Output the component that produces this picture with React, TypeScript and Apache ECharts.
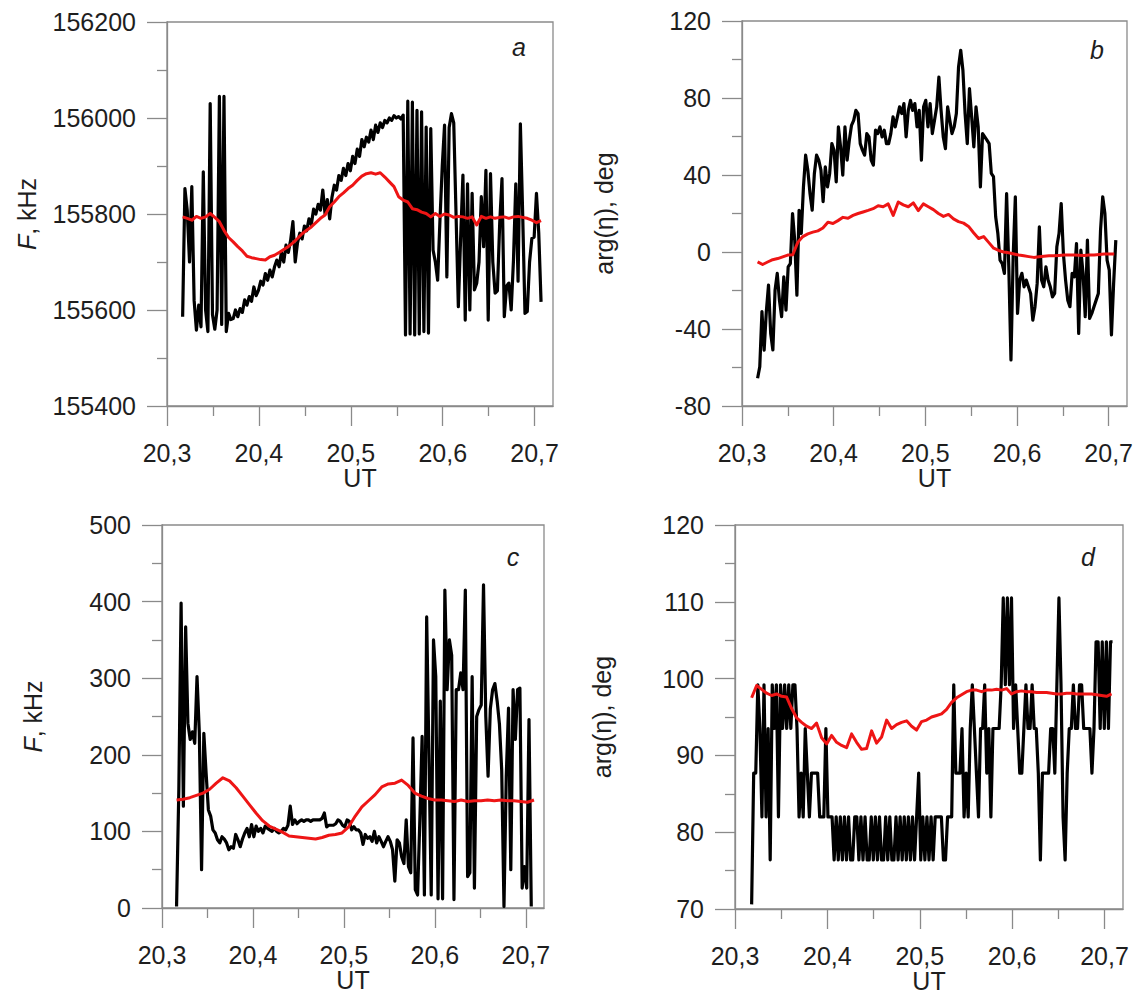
import React, { useEffect, useRef } from "react";
import * as echarts from "echarts";

// ---- axis ticks ----
const UT_MAJOR = [20.3, 20.4, 20.5, 20.6, 20.7];
const UT_MINOR = [20.35, 20.45, 20.55, 20.65];

// ---- panel a : F, kHz ----
const aBlackStart = 20.317;
const aBlackStep = 0.0025;
const aBlack = [
  155586, 155853, 155808, 155700, 155857, 155620, 155558, 155610, 155565, 155888,
  155600, 155555, 156030, 155590, 155560, 155600, 156045, 155570, 156045, 155555,
  155593, 155580, 155582, 155600, 155586, 155603, 155595, 155621, 155610, 155628,
  155618, 155648, 155630, 155641, 155660, 155652, 155676, 155662, 155683, 155669,
  155690, 155704, 155690, 155720, 155700, 155735, 155720, 155745, 155784, 155700,
  155740, 155760, 155748, 155775, 155765, 155790, 155778, 155810, 155800, 155820,
  155808, 155850, 155800, 155830, 155790, 155835, 155860, 155850, 155880, 155870,
  155895, 155880, 155905, 155890, 155920, 155905, 155935, 155920, 155955, 155940,
  155960, 155950, 155975, 155955, 155985, 155970, 155990, 155980, 155995, 155990,
  156000, 155995, 156005, 156000, 156003, 155998, 156006, 155548, 156035, 155550,
  156033, 155548, 156016, 155550, 156013, 155555, 155981, 155552, 155978, 155725,
  155700, 155662, 155787, 155900, 155985, 155669, 155980, 156009, 155990, 155800,
  155607, 155750, 155881, 155579, 155863, 155600, 155843, 155642, 155656, 155700,
  155836, 155732, 155891, 155579, 155884, 155700, 155635, 155640, 155780, 155874,
  155586, 155650, 155656, 155600, 155704, 155863, 155660, 155988, 155800, 155593,
  155597, 155700, 155749, 155752, 155843, 155760, 155617,
];
const aRedStart = 20.317;
const aRedStep = 0.005;
const aRed = [
  155794, 155791, 155787, 155795, 155791, 155794, 155801, 155793, 155784, 155766,
  155751, 155742, 155732, 155723, 155712, 155709, 155707, 155705, 155704, 155711,
  155714, 155720, 155726, 155732, 155740, 155749, 155759, 155766, 155773, 155782,
  155791, 155798, 155815, 155825, 155836, 155844, 155853, 155860, 155870, 155879,
  155884, 155886, 155883, 155886, 155877, 155867, 155857, 155836, 155829, 155825,
  155811, 155809, 155804, 155801, 155794, 155801, 155795, 155800, 155798, 155793,
  155795, 155794, 155791, 155794, 155777, 155795, 155791, 155794, 155791, 155793,
  155794, 155791, 155794, 155795, 155793, 155791, 155787, 155782, 155786,
];

// ---- panel b : arg(eta), deg ----
const bBlackStart = 20.317;
const bBlackEnd = 20.7078;
const bBlack = [
  -65.6, -59.6, -31, -51, -31, -17.2, -42.3, -50.9, -19.8, -11.1,
  -25, -33.6, -12.9, -30.2, -7.7, -6, 20, 6.2, -22.4, 21.7,
  9.6, 33.8, 50.3, 42.5, 30.4, 21.7, 40.8, 50.3, 47.7, 42.5,
  26.1, 44.2, 33.8, 40.8, 56.3, 52.9, 36.4, 65, 54.6, 39.9,
  65, 47.7, 58.1, 65.8, 68.4, 73.6, 71.9, 56.3, 52.9, 50.3,
  61.5, 59.8, 47.7, 45.1, 63.3, 61.5, 65, 59.8, 63.3, 56.3,
  56.3, 61.5, 70.2, 65, 70.2, 75.4, 71.9, 77.1, 59.8, 73.6,
  78.8, 73.6, 77.1, 65, 73.6, 47.7, 75.4, 78.8, 65, 77.1,
  61.5, 68.4, 75.4, 90.9, 73.6, 59.8, 53.7, 75.4, 68.4, 61.5,
  65, 71.9, 96.1, 104.8, 94.4, 71.9, 56.3, 84.9, 70.2, 54.6,
  75.4, 65, 33.8, 61.5, 59.8, 58.1, 56.3, 40.8, 39.1, 18.3,
  9.6, -4.2, -6, -11.1, 30.4, -7.7, -56.1, -2.5, 28.7, -31.9,
  -14.6, -11.1, -18.1, -14.6, -18.1, -21.5, -35.4, -28.4, -16.3, 13.1,
  -14.6, -18.1, -7.7, -14.6, -18.1, -23.3, -21.5, 2.7, 9.6, 25.2,
  -0.8, -14.6, -25, -28.4, -11.1, -12.9, 4.4, -42.3, 1, -11.1,
  -33.6, 6.2, -34.5, -31.9, -28.4, -25, -21.5, 11.3, 28.7, 20,
  -4.2, -9.4, -43.1, -16.3, 6.2,
];
const bRedStart = 20.317;
const bRedStep = 0.00548;
const bRed = [
  -5.1, -6.5, -5.2, -4.0, -3.4, -2.5, -1.6, -1.4, 5.0, 8.0,
  9.4, 10.3, 11.0, 12.5, 15.5, 14.8, 16.3, 18.0, 17.5, 19.0,
  20.0, 20.8, 21.6, 22.5, 24.0, 23.5, 25.0, 19.0, 26.0, 24.5,
  23.5, 25.5, 21.5, 25.0, 23.5, 22.0, 20.0, 18.5, 19.5, 17.2,
  15.8, 15.0, 13.3, 10.0, 7.0, 8.0, 5.0, 2.0, 0.8, 0.0,
  -0.4, -1.0, -1.6, -2.0, -2.4, -2.8, -2.5, -2.2, -2.0, -2.0,
  -1.8, -1.6, -1.6, -1.6, -1.7, -1.8, -1.6, -1.5, -1.3, -1.1,
  -1.1, -1.1,
];

// ---- panel c : F, kHz ----
const cBlackStart = 20.316;
const cBlackStep = 0.0025;
const cBlack = [
  2, 154, 398, 133, 367, 241, 220, 230, 215, 302,
  230, 50, 228, 176, 128, 120, 102, 98, 89, 85,
  93, 90, 85, 76, 80, 78, 96, 89, 80, 90,
  98, 104, 93, 109, 93, 107, 100, 104, 98, 107,
  104, 102, 100, 104, 100, 98, 100, 104, 102, 108,
  133, 109, 115, 110, 113, 115, 113, 115, 115, 113,
  115, 115, 115, 115, 117, 124, 106, 108, 108, 108,
  110, 115, 113, 108, 106, 115, 113, 102, 106, 102,
  102, 98, 83, 96, 91, 93, 87, 100, 85, 93,
  87, 80, 87, 93, 87, 76, 35, 89, 85, 67,
  58, 115, 54, 46, 222, 24, 17, 115, 224, 17,
  380, 200, 17, 350, 302, 12, 270, 12, 415, 285,
  350, 330, 11, 285, 285, 307, 285, 415, 41, 46,
  302, 26, 250, 259, 265, 422, 250, 172, 260, 285,
  293, 270, 240, 180, 2, 172, 261, 50, 285, 220,
  285, 287, 26, 54, 26, 246, 2,
];
const cRedStart = 20.316;
const cRedStep = 0.007278;
const cRed = [
  141, 142, 144, 147, 150, 155, 163, 170, 166, 157,
  146, 135, 124, 114, 107, 103, 99, 94, 93, 92,
  91, 90, 92, 95, 96, 98, 106, 120, 132, 140,
  148, 158, 162, 163, 167, 160, 150, 146, 143, 141,
  141, 140, 139, 141, 139, 140, 140, 141, 140, 141,
  140, 140, 139, 138, 141,
];

// ---- panel d : arg(eta), deg ----
const dBlackStart = 20.318;
const dBlackEnd = 20.7087;
const dBlack = [
  70.6, 87.7, 87.7, 99.2, 93.5, 82, 99.2, 82, 93.5, 76.4,
  99.2, 93.5, 99.2, 82, 99.2, 93.5, 99.2, 93.5, 99.2, 93.5,
  99.2, 99.2, 93.5, 82, 87.7, 82, 93.5, 87.7, 82, 87.7,
  87.7, 87.7, 87.7, 82, 82, 82, 93.5, 82, 82, 82,
  76.4, 82, 76.4, 82, 76.4, 82, 76.4, 82, 76.4, 76.4,
  82, 82, 76.4, 82, 76.4, 82, 76.4, 76.4, 82, 76.4,
  82, 76.4, 82, 76.4, 76.4, 82, 76.4, 82, 76.4, 76.4,
  82, 76.4, 82, 76.4, 82, 76.4, 82, 76.4, 82, 76.4,
  82, 87.7, 76.4, 82, 76.4, 82, 76.4, 82, 76.4, 82,
  82, 82, 82, 76.4, 76.4, 82, 82, 82, 99.2, 87.7,
  87.7, 87.7, 93.5, 82, 87.7, 82, 93.5, 99.2, 93.5, 87.7,
  82, 93.5, 93.5, 99.2, 87.7, 93.5, 82, 93.5, 93.5, 93.5,
  93.5, 99.2, 110.5, 99.2, 110.5, 99.2, 110.5, 93.5, 99.2, 93.5,
  87.7, 87.7, 93.5, 99.2, 93.5, 93.5, 99.2, 93.5, 93.5, 87.7,
  76.4, 87.7, 87.7, 87.7, 87.7, 93.5, 93.5, 87.7, 99.2, 110.5,
  99.2, 82, 76.4, 87.7, 93.5, 93.5, 99.2, 93.5, 93.5, 99.2,
  99.2, 93.5, 93.5, 93.5, 93.5, 87.7, 93.5, 104.8, 104.8, 93.5,
  104.8, 93.5, 104.8, 93.5, 104.8, 104.8,
];
const dRedStart = 20.318;
const dRedStep = 0.005411;
const dRed = [
  97.5, 99.1, 98.6, 98.1, 97.8, 98.0, 97.7, 97.6, 96.1, 94.9,
  94.3, 93.8, 93.5, 94.2, 92.3, 91.5, 92.6, 91.7, 91.3, 91.0,
  92.8, 91.7, 90.8, 90.9, 93.2, 91.6, 92.4, 94.6, 93.5, 94.0,
  94.3, 94.5, 93.8, 93.3, 94.4, 94.6, 95.0, 95.2, 95.4, 96.0,
  96.9, 97.5, 97.9, 98.3, 98.5, 98.5, 98.3, 98.5, 98.5, 98.6,
  98.5, 98.7, 98.0, 98.3, 98.4, 98.3, 98.3, 98.2, 98.2, 98.2,
  98.1, 98.0, 98.0, 98.1, 98.1, 98.0, 98.0, 98.0, 98.0, 97.9,
  97.8, 97.7, 98.0,
];

// ---- helpers ----
function withStep(start: number, step: number, vals: number[]) {
  return vals.map((v, i) => [start + i * step, v]);
}
function withSpan(start: number, end: number, vals: number[]) {
  const step = (end - start) / (vals.length - 1);
  return withStep(start, step, vals);
}

const FONT = "'Liberation Sans', Arial, sans-serif";
const FS = 25;
const AX = "#8a8a8a";
const TXT = "#1e1e1e";
const RED = "#ee1515";

const GRIDS = [
  { left: 167, top: 22, width: 386, height: 384 },
  { left: 742, top: 21, width: 385, height: 385 },
  { left: 162, top: 525, width: 382, height: 383 },
  { left: 735, top: 525, width: 388, height: 384 },
];

const Y_SPECS = [
  { min: 155400, max: 156200, interval: 200, name: "{i|F}, kHz", gap: 128 },
  { min: -80, max: 120, interval: 40, name: "arg(η), deg", gap: 126 },
  { min: 0, max: 500, interval: 100, name: "{i|F}, kHz", gap: 117 },
  { min: 70, max: 120, interval: 10, name: "arg(η), deg", gap: 121 },
];

const LETTERS = [
  { t: "a", x: 519, y: 47 },
  { t: "b", x: 1097, y: 50 },
  { t: "c", x: 513, y: 557 },
  { t: "d", x: 1088, y: 557 },
];

export default function App() {
  const ref = useRef<HTMLDivElement>(null);
  useEffect(() => {
    if (!ref.current) return;
    const chart = echarts.init(ref.current, null, { renderer: "svg" });

    const xAxes: any[] = [];
    GRIDS.forEach((_, g) => {
      xAxes.push({
        gridIndex: g,
        type: "value",
        min: 20.3,
        max: 20.72,
        position: "bottom",
        axisLine: { show: true, onZero: false, lineStyle: { color: AX, width: 1.3 } },
        axisTick: { show: true, customValues: UT_MAJOR, length: 20, lineStyle: { color: AX, width: 1.3 } },
        axisLabel: {
          customValues: UT_MAJOR,
          formatter: (v: number) => v.toFixed(1).replace(".", ","),
          margin: 34,
          fontSize: FS,
          color: TXT,
          fontFamily: FONT,
        },
        splitLine: { show: false },
        name: "UT",
        nameLocation: "middle",
        nameGap: 58,
        nameTextStyle: { fontSize: FS, color: TXT, fontFamily: FONT },
      });
      xAxes.push({
        gridIndex: g,
        type: "value",
        min: 20.3,
        max: 20.72,
        position: "bottom",
        axisLine: { show: false, onZero: false },
        axisTick: { show: true, customValues: UT_MINOR, length: 10, lineStyle: { color: AX, width: 1.3 } },
        axisLabel: { show: false },
        splitLine: { show: false },
      });
    });

    const yAxes = Y_SPECS.map((s, g) => ({
      gridIndex: g,
      type: "value",
      min: s.min,
      max: s.max,
      interval: s.interval,
      axisLine: { show: true, onZero: false, lineStyle: { color: AX, width: 1.3 } },
      axisTick: { show: true, length: 20, lineStyle: { color: AX, width: 1.3 } },
      minorTick: { show: true, splitNumber: 2, length: 10, lineStyle: { color: AX, width: 1.3 } },
      axisLabel: {
        margin: 31,
        fontSize: FS,
        color: TXT,
        fontFamily: FONT,
        formatter: (v: number) => String(v),
      },
      splitLine: { show: false },
      minorSplitLine: { show: false },
      name: s.name,
      nameLocation: "middle",
      nameRotate: 90,
      nameGap: s.gap,
      nameTextStyle: {
        fontSize: FS,
        color: TXT,
        fontFamily: FONT,
        rich: { i: { fontStyle: "italic", fontSize: FS, color: TXT, fontFamily: FONT } },
      },
    }));

    const blackData = [
      withStep(aBlackStart, aBlackStep, aBlack),
      withSpan(bBlackStart, bBlackEnd, bBlack),
      withStep(cBlackStart, cBlackStep, cBlack),
      withSpan(dBlackStart, dBlackEnd, dBlack),
    ];
    const redData = [
      withStep(aRedStart, aRedStep, aRed),
      withStep(bRedStart, bRedStep, bRed),
      withStep(cRedStart, cRedStep, cRed),
      withStep(dRedStart, dRedStep, dRed),
    ];

    const series: any[] = [];
    GRIDS.forEach((_, g) => {
      series.push({
        type: "line",
        xAxisIndex: 2 * g,
        yAxisIndex: g,
        data: blackData[g],
        showSymbol: false,
        symbol: "none",
        lineStyle: { color: "#000", width: 3.2, join: "round" },
        z: 2,
      });
    });
    GRIDS.forEach((_, g) => {
      series.push({
        type: "line",
        xAxisIndex: 2 * g,
        yAxisIndex: g,
        data: redData[g],
        showSymbol: false,
        symbol: "none",
        lineStyle: { color: RED, width: 3, join: "round" },
        z: 3,
      });
    });

    chart.setOption({
      animation: false,
      backgroundColor: "#fff",
      textStyle: { fontFamily: FONT },
      grid: GRIDS.map((g) => ({
        ...g,
        show: true,
        borderColor: AX,
        borderWidth: 1.3,
        backgroundColor: "transparent",
        containLabel: false,
      })),
      xAxis: xAxes,
      yAxis: yAxes,
      series,
      graphic: LETTERS.map((l) => ({
        type: "text",
        x: l.x,
        y: l.y,
        style: {
          text: l.t,
          fontSize: 25,
          fontStyle: "italic",
          fontFamily: FONT,
          fill: TXT,
          align: "center",
          verticalAlign: "middle",
        },
        z: 10,
      })),
    });

    return () => chart.dispose();
  }, []);

  return (
    <div
      ref={ref}
      style={{ position: "absolute", left: 0, top: 0, width: 1140, height: 1006 }}
    />
  );
}
